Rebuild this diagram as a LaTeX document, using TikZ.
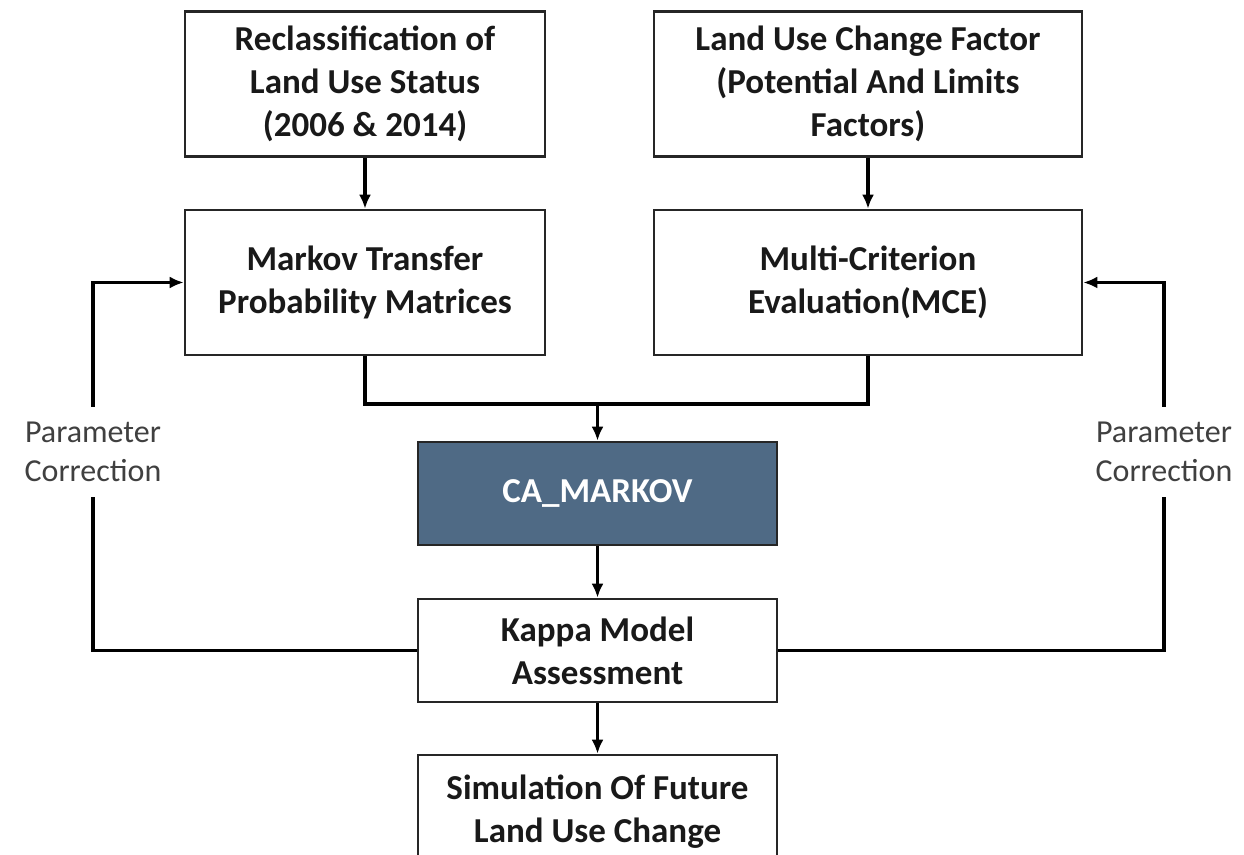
\documentclass[tikz,border=0pt]{standalone}
\usepackage{fontspec}
\setmainfont{Carlito}
\usepackage{tikz}
\usetikzlibrary{arrows.meta,calc,positioning}
\definecolor{slateblue}{RGB}{79,106,133}
\definecolor{labelgray}{RGB}{64,64,64}

\begin{document}
\begin{tikzpicture}[x=0.5pt,y=-0.5pt,
    box/.style={draw=black!85,line width=1.3pt,fill=white,align=center,
      font=\fontsize{17.5}{21.5}\selectfont\bfseries,text=black!90,inner sep=0pt},
    cabox/.style={box,fill=slateblue,text=white},
    corr/.style={fill=white,align=center,text=labelgray,
      font=\fontsize{16}{19.5}\selectfont,minimum height=45pt,inner sep=0pt},
    link/.style={line width=1.8pt,black},
    arr/.style={link,-{Latex[length=7pt,width=6pt]}}]
          \clip (0,0) rectangle (1244,855);
          % Draw the boxes
          \node[box,minimum width=180pt,minimum height=72.5pt] (recl) at (365,84)
            {Reclassification of\\Land Use Status\\(2006 \& 2014)};
          \node[box,minimum width=214pt,minimum height=72.5pt] (factor) at (868,84)
            {Land Use Change Factor\\(Potential And Limits\\Factors)};
          \node[box,minimum width=180pt,minimum height=72.5pt] (markov) at (365,282.5)
            {Markov Transfer\\Probability Matrices};
          \node[box,minimum width=214pt,minimum height=72.5pt] (mce) at (868,282.5)
            {Multi-Criterion\\Evaluation(MCE)};
          \node[cabox,minimum width=179.5pt,minimum height=51.5pt] (ca) at (597.5,493.5)
            {CA\_MARKOV};
          \node[box,minimum width=179.5pt,minimum height=51.5pt] (kappa) at (597.5,650.5)
            {Kappa Model\\Assessment};
          \node[box,minimum width=179.5pt,minimum height=57pt] (sim) at (597.5,812)
            {Simulation Of Future\\Land Use Change};
          % correction labels
          \node[corr,minimum width=82pt] (corrL) at (93,452) {Parameter\\Correction};
          \node[corr,minimum width=72pt] (corrR) at (1164,452) {Parameter\\Correction};
          % links
          \draw[arr] (recl) -- (markov);
          \draw[arr] (factor) -- (mce);
          \coordinate (merge) at (597.5,404);
          \draw[link] (markov.south) |- (merge) -| (mce.south);
          \draw[arr] (merge) -- (ca);
          \draw[arr] (ca) -- (kappa);
          \draw[arr] (kappa) -- (sim);
          % feedback
          \draw[link] (kappa.west) -| (corrL.south);
          \draw[arr] (corrL.north) |- (markov.west);
          \draw[link] (kappa.east) -| (corrR.south);
          \draw[arr] (corrR.north) |- (mce.east);
        \end{tikzpicture}
\end{document}
